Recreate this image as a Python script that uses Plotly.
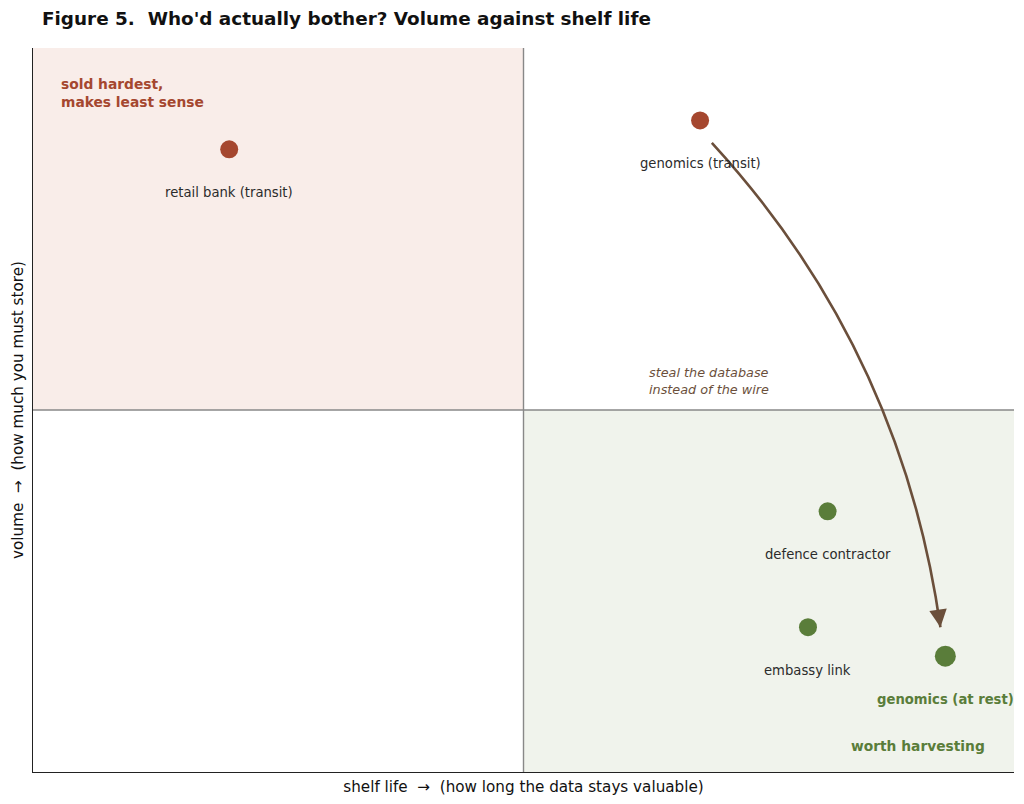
import plotly.graph_objects as go

# ---- data ----
names = ["retail bank (transit)", "genomics (transit)", "defence contractor", "embassy link", "genomics (at rest)"]
shelf_life = [2.0, 6.8, 8.1, 7.9, 9.3]
volume = [8.6, 9.0, 3.6, 2.0, 1.6]
group = ["bad", "bad", "good", "good", "good"]
emphasis = [False, False, False, False, True]

arrow_start = [6.92, 8.69]
arrow_ctrl = [8.85, 5.84]
arrow_end = [9.25, 2.0]

RED = "#a5472f"
GREEN = "#5a7d3a"
BROWN = "#6b4f3b"
FONT = "DejaVu Sans"

W, H = 1016, 796

fig = go.Figure()

# quadrant shading
fig.add_shape(type="rect", x0=0, x1=5, y0=5, y1=10, xref="x", yref="y",
              fillcolor="#f9ede9", line_width=0, layer="below")
fig.add_shape(type="rect", x0=5, x1=10, y0=0, y1=5, xref="x", yref="y",
              fillcolor="#f0f3ec", line_width=0, layer="below")
# quadrant lines
fig.add_shape(type="line", x0=5, x1=5, y0=0, y1=10, xref="x", yref="y",
              line=dict(color="#888888", width=1.4), layer="below")
fig.add_shape(type="line", x0=0, x1=10, y0=5, y1=5, xref="x", yref="y",
              line=dict(color="#888888", width=1.4), layer="below")

# points
colors = [RED if g == "bad" else GREEN for g in group]
sizes = [18 if not e else 21 for e in emphasis]
fig.add_trace(go.Scatter(x=shelf_life, y=volume, mode="markers", opacity=1,
                         marker=dict(color=colors, size=sizes, opacity=1, line_width=0),
                         hoverinfo="text", text=names, showlegend=False))

# point labels
for n, xv, yv, e in zip(names, shelf_life, volume, emphasis):
    fig.add_annotation(x=xv, y=yv, text=("<b>%s</b>" % n) if e else n, showarrow=False,
                       yshift=-43, xanchor="center", yanchor="middle",
                       font=dict(family=FONT, size=13.2,
                                 color=GREEN if e else "#2b2b2b"))

# curved arrow
fig.add_shape(type="path", xref="x", yref="y",
              path="M %g,%g Q %g,%g %g,%g" % (arrow_start[0], arrow_start[1], arrow_ctrl[0], arrow_ctrl[1],
                                               arrow_end[0], arrow_end[1]),
              line=dict(color=BROWN, width=2.6))
fig.add_annotation(x=arrow_end[0], y=arrow_end[1], xref="x", yref="y", text="",
                   showarrow=True, arrowhead=2, arrowsize=1.35, arrowwidth=2.6,
                   arrowcolor=BROWN, ax=-2.2, ay=-16, standoff=0)

# quadrant annotations
fig.add_annotation(x=0.27, y=9.64, xref="x", yref="y", xanchor="left", yanchor="top",
                   text="<b>sold hardest,<br>makes least sense</b>", showarrow=False, align="left",
                   font=dict(family=FONT, size=13.8, color=RED))
fig.add_annotation(x=9.02, y=0.36, xref="x", yref="y", xanchor="center", yanchor="middle",
                   text="<b>worth harvesting</b>", showarrow=False,
                   font=dict(family=FONT, size=13.8, color=GREEN))
fig.add_annotation(x=6.89, y=5.4, xref="x", yref="y", xanchor="center", yanchor="middle",
                   text="<i>steal the database<br>instead of the wire</i>", showarrow=False, align="left",
                   font=dict(family=FONT, size=12.8, color=BROWN))

fig.update_layout(
    width=W, height=H,
    margin=dict(l=23, r=10, t=40, b=32),
    paper_bgcolor="white", plot_bgcolor="white",
    font=dict(family=FONT, color="#111"),
    title=dict(text="<b>Figure 5.  Who'd actually bother? Volume against shelf life</b>",
               x=34 / W, xanchor="left", xref="container", y=1 - 11 / H, yanchor="middle",
               font=dict(family=FONT, size=18.4, color="#111")),
)
fig.update_xaxes(range=[0, 10], showgrid=False, zeroline=False, showticklabels=False, ticks="",
                 showline=True, linecolor="#222", linewidth=1.3,
                 title=dict(text="shelf life  \u2192  (how long the data stays valuable)",
                            font=dict(family=FONT, size=15.2, color="#111"), standoff=9))
fig.update_yaxes(range=[0, 10], showgrid=False, zeroline=False, showticklabels=False, ticks="",
                 showline=True, linecolor="#222", linewidth=1.3,
                 title=dict(text="volume  \u2192  (how much you must store)",
                            font=dict(family=FONT, size=15.2, color="#111"), standoff=4))

fig.write_html("out.html")
